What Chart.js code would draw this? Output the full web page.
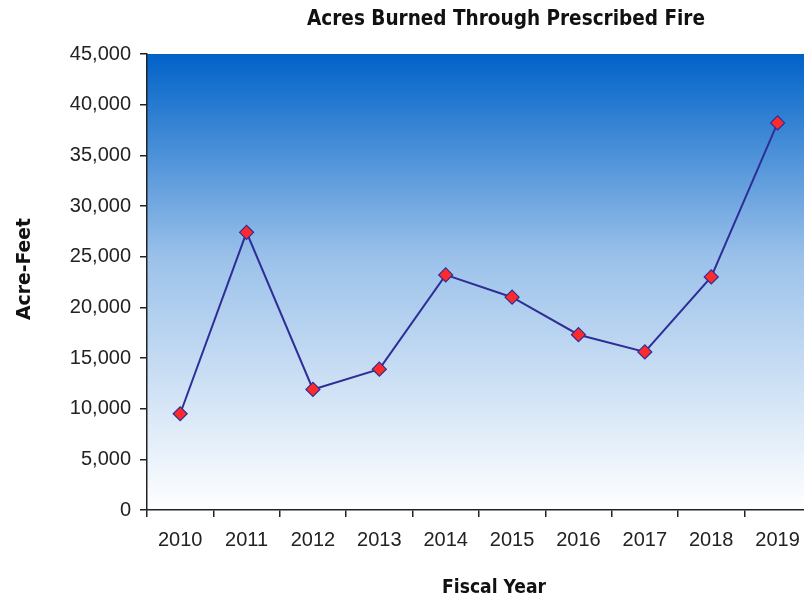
<!DOCTYPE html>
<html>
<head>
<meta charset="utf-8">
<script src="https://cdn.jsdelivr.net/npm/chart.js@4/dist/chart.umd.min.js"></script>
<style>
  html, body { margin: 0; padding: 0; background: #fff; overflow: hidden; }
  #wrap { width: 819px; height: 604px; }
</style>
</head>
<body>
<div id="wrap"><canvas id="myLine" width="819" height="604"></canvas></div>
<script>
// data
var years = ['2010', '2011', '2012', '2013', '2014', '2015', '2016', '2017', '2018', '2019'];
var acres = [9500, 27400, 11900, 13900, 23200, 21000, 17300, 15600, 23000, 38200];
var yMin = 0, yMax = 45000, yStep = 5000;

var chartTitle = 'Acres Burned Through Prescribed Fire';
var xTitle = 'Fiscal Year';
var yTitle = 'Acre-Feet';
var narrow = '"Liberation Sans Narrow", "DejaVu Sans Condensed", "Liberation Sans", Arial, sans-serif';
var regular = '"Liberation Sans", Arial, sans-serif';

// blue to white fill behind the plot
var plotFill = {
  id: 'plotFill',
  beforeDraw: function (chart) {
    var ctx = chart.ctx, a = chart.chartArea;
    var g = ctx.createLinearGradient(0, a.top, 0, a.bottom);
    g.addColorStop(0, '#0062c8');
    g.addColorStop(0.45, '#9cc2ea');
    g.addColorStop(1, '#ffffff');
    ctx.save();
    ctx.fillStyle = g;
    ctx.fillRect(a.left, a.top, a.right - a.left, a.bottom - a.top);
    ctx.restore();
  }
};

// write a bold narrow label squeezed to a given length
function squeezed(ctx, text, size, len, x, y, rot) {
  ctx.save();
  ctx.font = 'bold ' + size + 'px ' + narrow;
  ctx.fillStyle = '#111';
  ctx.textBaseline = 'middle';
  ctx.textAlign = 'center';
  var w = ctx.measureText(text).width;
  ctx.translate(x, y);
  if (rot) ctx.rotate(rot);
  ctx.scale(len / w, 1);
  ctx.fillText(text, 0, 0);
  ctx.restore();
}

var titles = {
  id: 'titles',
  afterDraw: function (chart) {
    var ctx = chart.ctx;
    squeezed(ctx, chartTitle, 22, 398, 506, 19, 0);
    squeezed(ctx, xTitle, 19, 104, 494, 588, 0);
    squeezed(ctx, yTitle, 19, 102, 25, 269, -Math.PI / 2);
  }
};

var ctx = document.getElementById('myLine').getContext('2d');
var myChart = new Chart(ctx, {
  type: 'line',
  data: {
    labels: years,
    datasets: [{
      label: 'Acres',
      data: acres,
      borderColor: '#2e2e96',
      borderWidth: 2,
      backgroundColor: '#ff2a2a',
      pointStyle: 'rectRot',
      pointRadius: 7,
      pointBorderColor: '#2e2e96',
      pointBorderWidth: 1.2,
      pointBackgroundColor: '#ff2a2a',
      fill: false,
      tension: 0
    }]
  },
  options: {
    responsive: false,
    animation: false,
    layout: { padding: { top: 54, right: 2, left: 0, bottom: 0 } },
    plugins: {
      legend: { display: false },
      title: { display: false },
      tooltip: { enabled: false }
    },
    scales: {
      x: {
        type: 'category',
        offset: true,
        afterFit: function (s) { s.height = 94; },
        grid: { offset: true, drawOnChartArea: false, tickLength: 7, color: '#222', lineWidth: 1.5 },
        border: { color: '#222', width: 1.5 },
        ticks: { color: '#222', font: { family: regular, size: 20 }, padding: 11, maxRotation: 0 }
      },
      y: {
        min: yMin,
        max: yMax,
        afterFit: function (s) { s.width = 147; },
        grid: { drawOnChartArea: false, tickLength: 7, color: '#222', lineWidth: 1.5 },
        border: { color: '#222', width: 1.5 },
        ticks: { stepSize: yStep, color: '#222', font: { family: regular, size: 20 }, padding: 9 }
      }
    }
  },
  plugins: [plotFill, titles]
});
</script>
</body>
</html>
